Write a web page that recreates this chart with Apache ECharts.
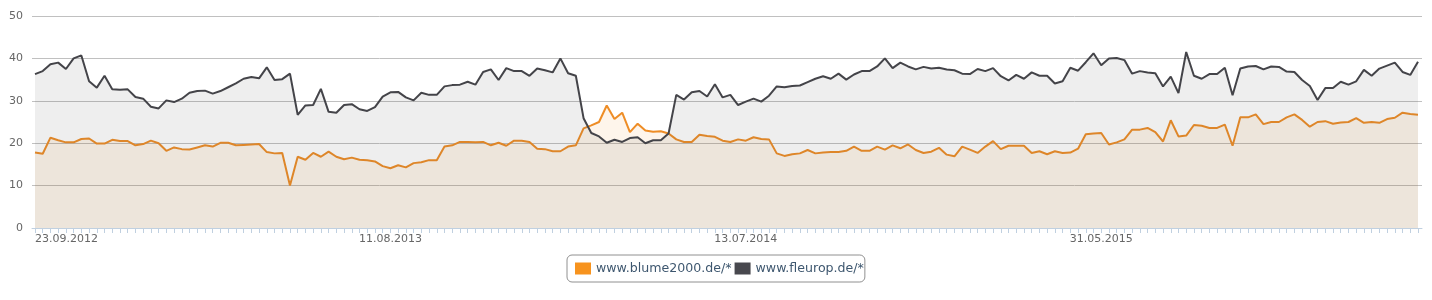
<!DOCTYPE html>
<html>
<head>
<meta charset="utf-8">
<script src="https://cdn.jsdelivr.net/npm/echarts@6/dist/echarts.min.js"></script>
<style>
html,body{margin:0;padding:0;background:#fff;}
#c{width:1432px;height:300px;}
</style>
</head>
<body>
<div id="c"></div>
<script>
// Series names
const seriesNames = ['www.blume2000.de/*', 'www.fleurop.de/*'];

// Weekly categories (two runs of weeks; the dataset skips two weeks in early 2014)
const runStarts = [[2012, 8, 23, 71], [2014, 1, 16, 109]];
const categories = [];
runStarts.forEach(function (r) {
  const t0 = Date.UTC(r[0], r[1], r[2]);
  for (let k = 0; k < r[3]; k++) {
    const d = new Date(t0 + k * 7 * 86400000);
    const dd = String(d.getUTCDate()).padStart(2, '0');
    const mm = String(d.getUTCMonth() + 1).padStart(2, '0');
    categories.push(dd + '.' + mm + '.' + d.getUTCFullYear());
  }
});
const labelEvery = 46;

const blume = [
  17.8, 17.5, 21.3, 20.7, 20.2, 20.2, 21.0, 21.1, 19.9, 19.9,
  20.8, 20.5, 20.5, 19.5, 19.8, 20.6, 20.0, 18.2, 19.0, 18.6,
  18.5, 19.0, 19.5, 19.2, 20.1, 20.1, 19.5, 19.6, 19.7, 19.8,
  17.9, 17.6, 17.7, 10.0, 16.8, 16.1, 17.7, 16.8, 18.0, 16.8,
  16.2, 16.6, 16.1, 16.0, 15.7, 14.6, 14.1, 14.8, 14.3, 15.3,
  15.5, 16.0, 16.0, 19.2, 19.5, 20.3, 20.3, 20.2, 20.3, 19.5,
  20.1, 19.4, 20.6, 20.6, 20.3, 18.7, 18.6, 18.1, 18.1, 19.2,
  19.5, 23.5, 24.2, 25.0, 28.9, 25.7, 27.2, 22.6, 24.6, 23.0,
  22.7, 22.8, 22.3, 20.9, 20.3, 20.3, 22.0, 21.7, 21.5, 20.6,
  20.3, 20.9, 20.6, 21.4, 21.0, 20.9, 17.6, 17.0, 17.4, 17.6,
  18.4, 17.6, 17.8, 17.9, 17.9, 18.2, 19.2, 18.2, 18.2, 19.2,
  18.5, 19.5, 18.8, 19.7, 18.4, 17.7, 18.0, 18.9, 17.3, 16.9,
  19.2, 18.5, 17.7, 19.2, 20.5, 18.6, 19.4, 19.4, 19.4, 17.7,
  18.1, 17.4, 18.1, 17.7, 17.8, 18.7, 22.1, 22.3, 22.4, 19.7,
  20.2, 20.9, 23.2, 23.2, 23.6, 22.6, 20.4, 25.4, 21.6, 21.8,
  24.3, 24.1, 23.6, 23.6, 24.4, 19.4, 26.1, 26.1, 26.8, 24.5,
  25.0, 25.0, 26.1, 26.8, 25.5, 23.9, 25.0, 25.2, 24.6, 24.9,
  25.0, 25.9, 24.8, 25.0, 24.8, 25.7, 26.0, 27.2, 26.9, 26.7
];

const fleurop = [
  36.3, 37.0, 38.6, 39.0, 37.5, 40.0, 40.7, 34.6, 33.1, 35.9,
  32.7, 32.6, 32.7, 30.9, 30.5, 28.6, 28.2, 30.1, 29.7, 30.5,
  31.9, 32.3, 32.4, 31.7, 32.3, 33.2, 34.1, 35.2, 35.6, 35.3,
  37.9, 34.9, 35.1, 36.4, 26.7, 28.9, 29.0, 32.8, 27.4, 27.2,
  29.0, 29.2, 28.0, 27.6, 28.5, 31.0, 32.0, 32.1, 30.8, 30.1,
  31.9, 31.4, 31.4, 33.4, 33.7, 33.8, 34.5, 33.8, 36.8, 37.4,
  34.9, 37.7, 37.0, 37.0, 35.9, 37.6, 37.2, 36.7, 40.0, 36.5,
  35.9, 25.9, 22.4, 21.6, 20.1, 20.8, 20.3, 21.2, 21.4, 20.0,
  20.7, 20.7, 22.3, 31.4, 30.3, 32.0, 32.3, 31.0, 33.9, 30.8,
  31.4, 29.0, 29.8, 30.5, 29.8, 31.2, 33.4, 33.2, 33.5, 33.6,
  34.4, 35.2, 35.8, 35.2, 36.4, 35.0, 36.2, 37.0, 37.0, 38.1,
  40.0, 37.7, 39.0, 38.1, 37.4, 38.0, 37.6, 37.8, 37.4, 37.2,
  36.4, 36.3, 37.5, 37.0, 37.7, 35.8, 34.8, 36.1, 35.2, 36.7,
  35.9, 35.9, 34.1, 34.6, 37.8, 37.1, 39.1, 41.2, 38.4, 40.0,
  40.1, 39.6, 36.4, 37.0, 36.7, 36.5, 33.4, 35.7, 31.8, 41.5,
  35.9, 35.2, 36.3, 36.3, 37.8, 31.3, 37.6, 38.1, 38.2, 37.4,
  38.1, 38.0, 36.9, 36.8, 34.9, 33.5, 30.2, 33.0, 33.0, 34.5,
  33.8, 34.6, 37.3, 35.9, 37.6, 38.3, 39.0, 36.8, 36.1, 39.2
];

const yTicks = { min: 0, max: 50, interval: 10 };

const FONT = 'DejaVu Sans';
const chart = echarts.init(document.getElementById('c'), null, { renderer: 'canvas' });
chart.setOption({
  animation: false,
  backgroundColor: '#ffffff',
  textStyle: { fontFamily: FONT },
  grid: [
    { left: 35, right: 14, top: 16, bottom: 72 },
    { left: 32, right: 10, top: 16, bottom: 72 }
  ],
  legend: {
    data: seriesNames,
    left: 567,
    top: 255,
    orient: 'horizontal',
    icon: 'rect',
    itemWidth: 16,
    itemHeight: 12,
    itemGap: 3,
    padding: [7, 1, 7, 8],
    borderColor: '#909090',
    borderWidth: 1,
    borderRadius: 5,
    textStyle: { color: '#3e576f', fontSize: 12.6, fontFamily: FONT }
  },
  xAxis: [
    {
      gridIndex: 0,
      type: 'category',
      data: categories,
      boundaryGap: false,
      axisLine: { show: false },
      axisTick: { show: true, interval: 0, length: 5, lineStyle: { color: '#c0d0e0' } },
      axisLabel: {
        interval: function (idx) { return idx % labelEvery === 0; },
        color: '#666666',
        fontSize: 11,
        fontFamily: FONT,
        margin: 6,
        alignMinLabel: 'left',
        hideOverlap: false
      },
      splitLine: { show: false }
    },
    {
      gridIndex: 1,
      type: 'value',
      min: 0,
      max: 1,
      axisLine: { show: true, lineStyle: { color: '#c0d0e0', width: 1 } },
      axisTick: { show: false },
      axisLabel: { show: false },
      splitLine: { show: false }
    }
  ],
  yAxis: [
    {
      gridIndex: 0,
      type: 'value',
      min: yTicks.min, max: yTicks.max, interval: yTicks.interval,
      axisLine: { show: false }, axisTick: { show: false },
      axisLabel: { show: false }, splitLine: { show: false }
    },
    {
      gridIndex: 1,
      type: 'value',
      min: yTicks.min, max: yTicks.max, interval: yTicks.interval,
      axisLine: { show: false }, axisTick: { show: false },
      axisLabel: { color: '#666666', fontSize: 11, fontFamily: FONT, margin: 9 },
      splitLine: { show: true, lineStyle: { color: '#c0c0c0', width: 1 } }
    }
  ],
  series: [
    {
      name: seriesNames[0],
      type: 'line',
      xAxisIndex: 0, yAxisIndex: 0,
      data: blume,
      showSymbol: false,
      symbol: 'none',
      color: '#f7931e',
      lineStyle: { color: '#ee8d26', width: 2 },
      areaStyle: { color: 'rgba(247,147,30,0.09)', opacity: 1 },
      z: 2
    },
    {
      name: seriesNames[1],
      type: 'line',
      xAxisIndex: 0, yAxisIndex: 0,
      data: fleurop,
      showSymbol: false,
      symbol: 'none',
      color: '#48484e',
      lineStyle: { color: '#444449', width: 2 },
      areaStyle: { color: 'rgba(72,72,78,0.093)', opacity: 1 },
      z: 3
    }
  ]
});
</script>
</body>
</html>
